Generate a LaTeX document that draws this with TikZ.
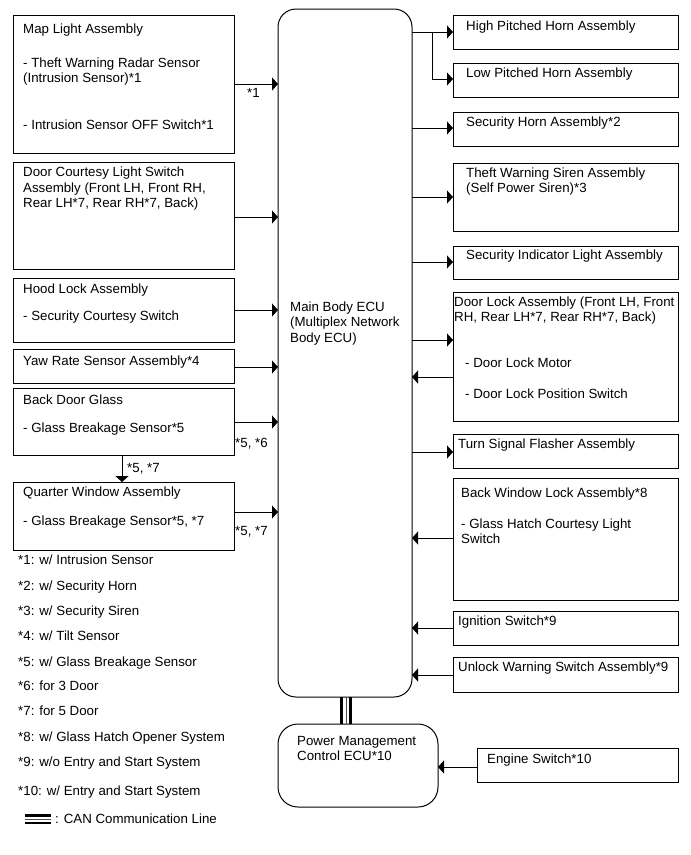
\documentclass[tikz,border=0pt]{standalone}
\usepackage{fontspec}
\setmainfont{Liberation Sans}
\usetikzlibrary{arrows.meta,calc}
\newcounter{tn}
\tikzset{
  box/.style={draw, line width=1pt, anchor=north west, inner sep=0pt, outer sep=0pt},
  txt/.style={anchor=base west, inner sep=0pt, font=\fontsize{13.3pt}{15.3pt}\selectfont},
  arr/.style={line width=1pt, -{Triangle[length=6pt,width=13pt]}},
  wire/.style={line width=1pt},
}
\newcommand\bx[5]{\node[box, minimum width=#4pt, minimum height=#5pt] (#1) at (#2,#3) {};}
\newcommand\tx[3]{\stepcounter{tn}\node[txt] (t\arabic{tn}) at (#1,#2) {#3};}
\begin{document}
\begin{tikzpicture}[x=1pt,y=-1pt]
\useasboundingbox (0,0) rectangle (691,855);
% left boxes
\bx{maplight}{13}{15}{221}{138}
\bx{doorcourt}{13}{162}{221}{107}
\bx{hood}{13}{278}{221}{64}
\bx{yaw}{13}{349}{221}{34}
\bx{backdoor}{13}{388}{221}{67}
\bx{quarter}{13}{482}{221}{68}
% ECUs
\node[box, rounded corners=18pt, minimum width=134pt, minimum height=688pt] (ecu) at (278,9) {};
\node[box, rounded corners=20pt, minimum width=160pt, minimum height=83pt] (pmc) at (278,724) {};
% right boxes
\bx{highhorn}{453}{15}{225}{34}
\bx{lowhorn}{453}{63}{225}{34}
\bx{sechorn}{453}{112}{225}{34}
\bx{siren}{453}{163}{225}{68}
\bx{indic}{453}{246}{225}{33}
\bx{doorlock}{453}{292}{225}{129}
\bx{turnsig}{453}{434}{225}{34}
\bx{backwin}{453}{478}{225}{122}
\bx{ignition}{453}{611}{225}{34}
\bx{unlock}{453}{657}{225}{35}
\bx{engine}{477}{748}{201}{34}
% left texts
\tx{23}{33}{Map Light Assembly}
\tx{23}{67}{- Theft Warning Radar Sensor}
\tx{23}{82}{(Intrusion Sensor)*1}
\tx{23}{129}{- Intrusion Sensor OFF Switch*1}
\tx{23}{176}{Door Courtesy Light Switch}
\tx{23}{192}{Assembly (Front LH, Front RH,}
\tx{23}{207}{Rear LH*7, Rear RH*7, Back)}
\tx{23}{293}{Hood Lock Assembly}
\tx{23}{320}{- Security Courtesy Switch}
\tx{23}{365}{Yaw Rate Sensor Assembly*4}
\tx{23}{404}{Back Door Glass}
\tx{23}{432}{- Glass Breakage Sensor*5}
\tx{23}{496}{Quarter Window Assembly}
\tx{23}{525}{- Glass Breakage Sensor*5, *7}
% connector labels
\tx{247}{97}{*1}
\tx{235}{447}{*5, *6}
\tx{127}{472}{*5, *7}
\tx{235}{535}{*5, *7}
% ECU texts
\tx{290}{311}{Main Body ECU}
\tx{290}{326}{(Multiplex Network}
\tx{290}{342}{Body ECU)}
\tx{297}{745}{Power Management}
\tx{297}{760}{Control ECU*10}
% right texts
\tx{466}{30}{High Pitched Horn Assembly}
\tx{466}{77}{Low Pitched Horn Assembly}
\tx{466}{126}{Security Horn Assembly*2}
\tx{466}{177}{Theft Warning Siren Assembly}
\tx{466}{192}{(Self Power Siren)*3}
\tx{466}{259}{Security Indicator Light Assembly}
\tx{454}{306}{Door Lock Assembly (Front LH, Front}
\tx{454}{321}{RH, Rear LH*7, Rear RH*7, Back)}
\tx{465}{367}{- Door Lock Motor}
\tx{465}{398}{- Door Lock Position Switch}
\tx{458}{448}{Turn Signal Flasher Assembly}
\tx{461}{497}{Back Window Lock Assembly*8}
\tx{461}{528}{- Glass Hatch Courtesy Light}
\tx{461}{543}{Switch}
\tx{458}{625}{Ignition Switch*9}
\tx{458}{671}{Unlock Warning Switch Assembly*9}
\tx{487}{763}{Engine Switch*10}
% legend
\tx{18}{564}{*1: w/ Intrusion Sensor}
\tx{18}{590}{*2: w/ Security Horn}
\tx{18}{615}{*3: w/ Security Siren}
\tx{18}{640}{*4: w/ Tilt Sensor}
\tx{18}{666}{*5: w/ Glass Breakage Sensor}
\tx{18}{690}{*6: for 3 Door}
\tx{18}{715}{*7: for 5 Door}
\tx{18}{741}{*8: w/ Glass Hatch Opener System}
\tx{18}{766}{*9: w/o Entry and Start System}
\tx{18}{795}{*10: w/ Entry and Start System}
\tx{55}{823}{: CAN Communication Line}
\coordinate (lgA) at (25,815.5);
\coordinate (lgB) at (51,815.5);
\draw[line width=2.3pt] (lgA) -- (lgB);
\draw[line width=0.8pt, black!70] ($(lgA)+(0,3.8)$) -- ($(lgB)+(0,3.8)$);
\draw[line width=2.3pt] ($(lgA)+(0,7.5)$) -- ($(lgB)+(0,7.5)$);
% left arrows
\draw[arr] (maplight.east |- 0,84) -- (ecu.west |- 0,84);
\draw[arr] (doorcourt.east |- 0,217) -- (ecu.west |- 0,217);
\draw[arr] (hood.east |- 0,310) -- (ecu.west |- 0,310);
\draw[arr] (yaw.east |- 0,367) -- (ecu.west |- 0,367);
\draw[arr] (backdoor.east |- 0,422) -- (ecu.west |- 0,422);
\draw[arr] (quarter.east |- 0,512) -- (ecu.west |- 0,512);
\draw[arr] (backdoor.south -| 122,0) -- (quarter.north -| 122,0);
% right arrows
\coordinate (br) at (432,32);
\draw[arr] (ecu.east |- 0,32) -- (highhorn.west |- 0,32);
\draw[arr] (br) |- (lowhorn.west |- 0,79);
\draw[arr] (ecu.east |- 0,128) -- (sechorn.west |- 0,128);
\draw[arr] (ecu.east |- 0,197) -- (siren.west |- 0,197);
\draw[arr] (ecu.east |- 0,262) -- (indic.west |- 0,262);
\draw[arr] (ecu.east |- 0,340) -- (doorlock.west |- 0,340);
\draw[arr] (doorlock.west |- 0,377) -- (ecu.east |- 0,377);
\draw[arr] (ecu.east |- 0,452) -- (turnsig.west |- 0,452);
\draw[arr] (backwin.west |- 0,538) -- (ecu.east |- 0,538);
\draw[arr] (ignition.west |- 0,628) -- (ecu.east |- 0,628);
\draw[arr] (unlock.west |- 0,675) -- (ecu.east |- 0,675);
\draw[arr] (engine.west |- 0,767) -- (pmc.east |- 0,767);
% CAN line
\draw[line width=2.5pt] (ecu.south -| 341.5,0) -- (pmc.north -| 341.5,0);
\draw[line width=0.8pt, black!70] (ecu.south -| 346,0) -- (pmc.north -| 346,0);
\draw[line width=2.5pt] (ecu.south -| 350.5,0) -- (pmc.north -| 350.5,0);
\end{tikzpicture}
\end{document}
